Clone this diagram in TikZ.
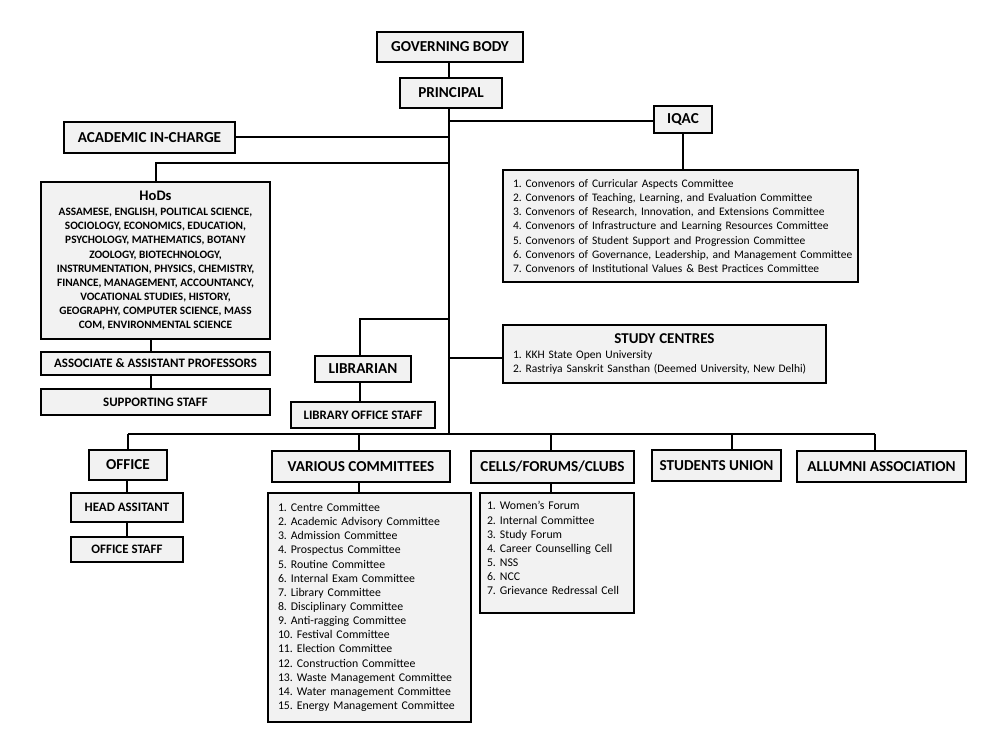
\documentclass[tikz,border=0pt]{standalone}
\usepackage{fontspec}
\setmainfont{Carlito}
\definecolor{boxgray}{HTML}{F2F2F2}
\newcommand\fBig{\fontsize{15.2}{18}\selectfont\bfseries}
\newcommand\fMid{\fontsize{12.9}{15}\selectfont\bfseries}
\newcommand\fDept{\fontsize{11.3}{14.1}\selectfont\bfseries}
\newcommand\fList{\fontsize{11.8}{14.15}\selectfont}
\newcommand\fListS{\fontsize{11.5}{14.15}\selectfont}
\frenchspacing
\begin{document}
\frenchspacing
\hbadness=10000 \hfuzz=50pt
\begin{tikzpicture}[x=1pt,y=-1pt,
  box/.style={draw=black, line width=2.5pt, fill=boxgray, inner sep=0pt, align=center},
  listbox/.style={box, align=left, inner xsep=10pt, font=\fList},
  con/.style={draw=black, line width=2pt},
]
\useasboundingbox[fill=white] (0,0) rectangle (983,738);

% ---- top ----
\node[box, minimum width=146, minimum height=30, font=\fBig] (gb) at (450,47) {GOVERNING BODY};
\node[box, minimum width=102, minimum height=30, font=\fBig] (pr) at (451,93) {PRINCIPAL};
\node[box, minimum width=171, minimum height=31, font=\fBig] (aic) at (149.5,137.5) {ACADEMIC IN-CHARGE};
\node[box, minimum width=58, minimum height=27, font=\fBig] (iqac) at (683,119.5) {IQAC};
\node[listbox, font=\fListS, minimum width=355, minimum height=112, text width=335] (iqlist) at (680.5,226) {%
\mbox{1. Convenors of Curricular Aspects Committee}\\
\mbox{2. Convenors of Teaching, Learning, and Evaluation Committee}\\
\mbox{3. Convenors of Research, Innovation, and Extensions Committee}\\
\mbox{4. Convenors of Infrastructure and Learning Resources Committee}\\
\mbox{5. Convenors of Student Support and Progression Committee}\\
\mbox{6. Convenors of Governance, Leadership, and Management Committee}\\
\mbox{7. Convenors of Institutional Values \& Best Practices Committee}};

% ---- HoDs ----
\node[box, minimum width=229, minimum height=157, font=\fDept] (hods) at (155.5,260.5) {%
{\fontsize{14.6}{16}\selectfont\bfseries HoDs}\\[1.2pt]
ASSAMESE, ENGLISH, POLITICAL SCIENCE,\\
SOCIOLOGY, ECONOMICS, EDUCATION,\\
PSYCHOLOGY, MATHEMATICS, BOTANY\\
ZOOLOGY, BIOTECHNOLOGY,\\
INSTRUMENTATION, PHYSICS, CHEMISTRY,\\
FINANCE, MANAGEMENT, ACCOUNTANCY,\\
VOCATIONAL STUDIES, HISTORY,\\
GEOGRAPHY, COMPUTER SCIENCE, MASS\\
COM, ENVIRONMENTAL SCIENCE};
\node[box, minimum width=229, minimum height=23, font=\fMid] (assoc) at (155.5,363.5) {ASSOCIATE \& ASSISTANT PROFESSORS};
\node[box, minimum width=229, minimum height=26, font=\fMid] (supp) at (155.5,402) {SUPPORTING STAFF};

% ---- library ----
\node[box, minimum width=96, minimum height=26, font=\fBig] (lib) at (363,369) {LIBRARIAN};
\node[box, minimum width=144, minimum height=26, font=\fMid] (libst) at (363,415) {LIBRARY OFFICE STAFF};

% ---- study centres ----
\node[listbox, font=\fListS, minimum width=323, minimum height=58, text width=303] (study) at (664.5,354) {%
\makebox[303pt][c]{\fontsize{15}{16}\selectfont\bfseries STUDY CENTRES}\\[0.8pt]
\mbox{1. KKH State Open University}\\
\mbox{2. Rastriya Sanskrit Sansthan (Deemed University, New Delhi)}};

% ---- bottom row ----
\node[box, minimum width=78, minimum height=30, font=\fBig] (office) at (128,465) {OFFICE};
\node[box, minimum width=112, minimum height=29, font=\fMid] (head) at (127,507.5) {HEAD ASSITANT};
\node[box, minimum width=112, minimum height=25, font=\fMid] (ostaff) at (127,549.5) {OFFICE STAFF};
\node[box, minimum width=178, minimum height=31, font=\fBig] (vc) at (361,466.5) {VARIOUS COMMITTEES};
\node[listbox, minimum width=203, minimum height=229, text width=183] (vclist) at (369.5,607.5) {%
1. Centre Committee\\
2. Academic Advisory Committee\\
3. Admission Committee\\
4. Prospectus Committee\\
5. Routine Committee\\
6. Internal Exam Committee\\
7. Library Committee\\
8. Disciplinary Committee\\
9. Anti-ragging Committee\\
10. Festival Committee\\
11. Election Committee\\
12. Construction Committee\\
\mbox{13. Waste Management Committee}\\
\mbox{14. Water management Committee}\\
\mbox{15. Energy Management Committee}};
\node[box, minimum width=163, minimum height=32, font=\fBig] (cells) at (552.5,467) {CELLS/FORUMS/CLUBS};
\node[listbox, inner xsep=7pt, minimum width=154, minimum height=120, text width=140] (clist) at (557,553) {%
1. Women’s Forum\\
2. Internal Committee\\
3. Study Forum\\
4. Career Counselling Cell\\
5. NSS\\
6. NCC\\
7. Grievance Redressal Cell\\[-4.5pt]\mbox{}};
\node[box, minimum width=129, minimum height=31, font=\fBig] (su) at (716.5,465.5) {STUDENTS UNION};
\node[box, minimum width=169, minimum height=31, font=\fBig] (alum) at (881.5,466.5) {ALLUMNI ASSOCIATION};

% ---- connector coordinates ----
\coordinate (mx) at (449,0);
\coordinate (jI) at (449,121);
\coordinate (jA) at (449,137);
\coordinate (jH) at (449,163);
\coordinate (hx) at (156,0);
\coordinate (hx2) at (151,0);
\coordinate (jL) at (449,319);
\coordinate (lx) at (360,0);
\coordinate (jS) at (449,358);
\coordinate (bus) at (449,434);
\coordinate (bL) at (128,434);
\coordinate (bR) at (875,434);
\coordinate (bV) at (359,434);
\coordinate (bC) at (551,434);
\coordinate (bS) at (732,434);
\coordinate (ox) at (127,0);

% ---- connectors ----
\draw[con] (gb.south -| mx) -- (pr.north -| mx);
\draw[con] (pr.south -| mx) -- (bus);
\draw[con] (jI) -- (iqac.west |- jI);
\draw[con] (iqac.south) -- (iqac.south |- iqlist.north);
\draw[con] (jA) -- (aic.east |- jA);
\draw[con] (jH) -| (hods.north -| hx);
\draw[con] (hods.south -| hx2) -- (assoc.north -| hx2);
\draw[con] (assoc.south -| hx2) -- (supp.north -| hx2);
\draw[con] (jL) -| (lib.north -| lx);
\draw[con] (lib.south -| lx) -- (libst.north -| lx);
\draw[con] (jS) -- (study.west |- jS);
\draw[con] (bL) -- (bR);
\draw[con] (bL) -- (office.north -| bL);
\draw[con] (bV) -- (vc.north -| bV);
\draw[con] (bC) -- (cells.north -| bC);
\draw[con] (bS) -- (su.north -| bS);
\draw[con] (bR) -- (alum.north -| bR);
\draw[con] (office.south -| ox) -- (head.north -| ox);
\draw[con] (head.south -| ox) -- (ostaff.north -| ox);
\draw[con] (vc.south -| bV) -- (vclist.north -| bV);
\draw[con] (cells.south -| bC) -- (clist.north -| bC);
\end{tikzpicture}
\end{document}
